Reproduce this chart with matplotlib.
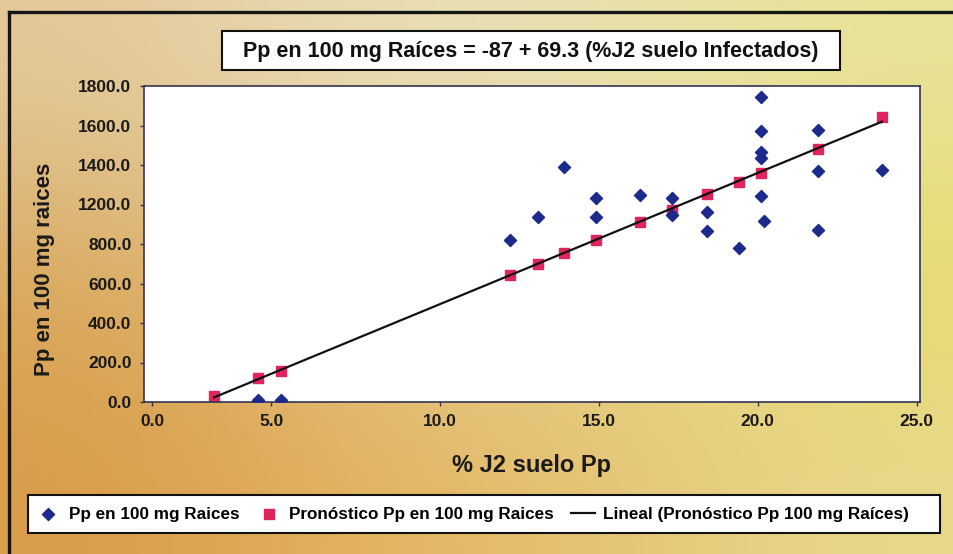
#!/usr/bin/env python3
"""
Pp en 100 mg raices vs % J2 suelo Pp, con pronostico y linea de tendencia
"""

import matplotlib
matplotlib.use('Agg')
import matplotlib.pyplot as plt
from matplotlib.patches import Rectangle
from matplotlib.lines import Line2D
import numpy as np

plt.rcParams['font.family'] = ['Liberation Sans', 'DejaVu Sans']
plt.rcParams['font.weight'] = 'bold'

# datos observados (% J2 suelo, Pp en 100 mg raices)
obs_x = [4.3, 5.0, 12.2, 13.1, 13.9, 14.9, 14.9, 16.3, 17.3, 17.3, 18.4, 18.4,
         19.4, 20.1, 20.1, 20.1, 20.1, 20.1, 20.2, 21.9, 21.9, 21.9, 23.9]
obs_y = [11, 11, 923, 1054, 1339, 1162, 1054, 1179, 1162, 1065, 1082, 974,
         877, 1737, 1544, 1424, 1390, 1173, 1031, 1549, 1316, 980, 1321]

# pronostico
pred_x = [2.9, 4.3, 5.0, 12.2, 13.1, 13.9, 14.9, 16.3, 17.3, 18.4, 19.4, 20.1, 21.9, 23.9]
pred_y = [34, 137, 177, 723, 786, 849, 923, 1025, 1094, 1185, 1253, 1304, 1441, 1623]

# el eje del original tiene 9 marcas equiespaciadas con estas etiquetas
y_ticks = [0, 225, 450, 675, 900, 1125, 1350, 1575, 1800]
y_labels = ['0.0', '200.0', '400.0', '600.0', '800.0', '1200.0', '1400.0', '1600.0', '1800.0']
x_ticks = [0.95, 4.7, 10, 15, 20, 25]
x_labels = ['0.0', '5.0', '10.0', '15.0', '20.0', '25.0']

title_text = 'Pp en 100 mg Raíces = -87 + 69.3 (%J2 suelo Infectados)'
legend_labels = ['Pp en 100 mg Raices', 'Pronóstico Pp en 100 mg Raices',
                 'Lineal (Pronóstico Pp 100 mg Raíces)']


def draw_background(fig):
    """fondo degradado amarillo/naranja"""
    bg = fig.add_axes([0, 0, 1, 1], zorder=-10)
    grid = np.array([
        [[0.89, 0.79, 0.61], [0.92, 0.87, 0.72], [0.91, 0.88, 0.70], [0.91, 0.89, 0.60]],
        [[0.85, 0.66, 0.36], [0.89, 0.78, 0.56], [0.90, 0.85, 0.58], [0.91, 0.86, 0.42]],
        [[0.85, 0.61, 0.29], [0.89, 0.70, 0.38], [0.90, 0.76, 0.45], [0.91, 0.85, 0.55]],
    ])
    bg.imshow(grid, aspect='auto', interpolation='bicubic', extent=[0, 1, 0, 1])
    bg.set_axis_off()


def main():
    fig = plt.figure(figsize=(9.54, 5.54), dpi=100)
    draw_background(fig)

    # marco exterior (solo arriba e izquierda visibles)
    fig.add_artist(Line2D([9 / 954, 9 / 954], [0, 1 - 12 / 554], color='#151515', lw=2.4))
    fig.add_artist(Line2D([9 / 954, 1], [1 - 12 / 554, 1 - 12 / 554], color='#151515', lw=2.4))

    ax = fig.add_axes([144 / 954, 152 / 554, 776 / 954, 316 / 554])
    ax.set_facecolor('white')

    ax.scatter(obs_x, obs_y, marker='D', s=38, color='#1c2a8c', zorder=3, label=legend_labels[0])
    ax.scatter(pred_x, pred_y, marker='s', s=60, color='#e0245e', zorder=2, label=legend_labels[1])
    coef = np.polyfit(pred_x, pred_y, 1)
    xs = np.array([min(pred_x), max(pred_x)])
    ax.plot(xs, np.polyval(coef, xs), color='#111111', lw=1.6, zorder=4, label=legend_labels[2])

    ax.set_xlim(0.7, 25.1)
    ax.set_ylim(0, 1800)
    ax.set_xticks(x_ticks, x_labels)
    ax.set_yticks(y_ticks, y_labels)
    ax.tick_params(axis='both', labelsize=12.5, length=3, width=1, color='#333355', pad=6)
    for lab in ax.get_xticklabels() + ax.get_yticklabels():
        lab.set_fontweight('bold')
        lab.set_color('#1a1a1a')
    for sp in ax.spines.values():
        sp.set_color('#333355')
        sp.set_linewidth(1.2)

    ax.set_xlabel('% J2 suelo Pp', fontsize=17, fontweight='bold', color='#1a1a1a')
    ax.xaxis.set_label_coords(0.5, -0.165)
    ax.set_ylabel('Pp en 100 mg raices', fontsize=16, fontweight='bold', color='#1a1a1a')
    ax.yaxis.set_label_coords(-0.115, 0.42)

    # caja del titulo
    fig.add_artist(Rectangle((222 / 954, 1 - 70 / 554), 618 / 954, 39 / 554,
                             transform=fig.transFigure, facecolor='white',
                             edgecolor='#111111', lw=1.5))
    fig.text(531 / 954, 1 - 51 / 554, title_text, ha='center', va='center',
             fontsize=15.5, fontweight='bold', color='#111111')

    # caja de la leyenda
    fig.add_artist(Rectangle((28 / 954, 1 - 533 / 554), 912 / 954, 38 / 554,
                             transform=fig.transFigure, facecolor='white',
                             edgecolor='#111111', lw=1.5))
    handles, labels = ax.get_legend_handles_labels()
    fig.legend(handles, labels, loc='center left', bbox_to_anchor=(21 / 954, 1 - 514 / 554),
               ncol=3, frameon=False, prop={'weight': 'bold', 'size': 12.3},
               handlelength=1.4, handletextpad=0.5, columnspacing=1.0, scatterpoints=1)

    plt.savefig('out.png', dpi=100)
    plt.close()


if __name__ == "__main__":
    main()
